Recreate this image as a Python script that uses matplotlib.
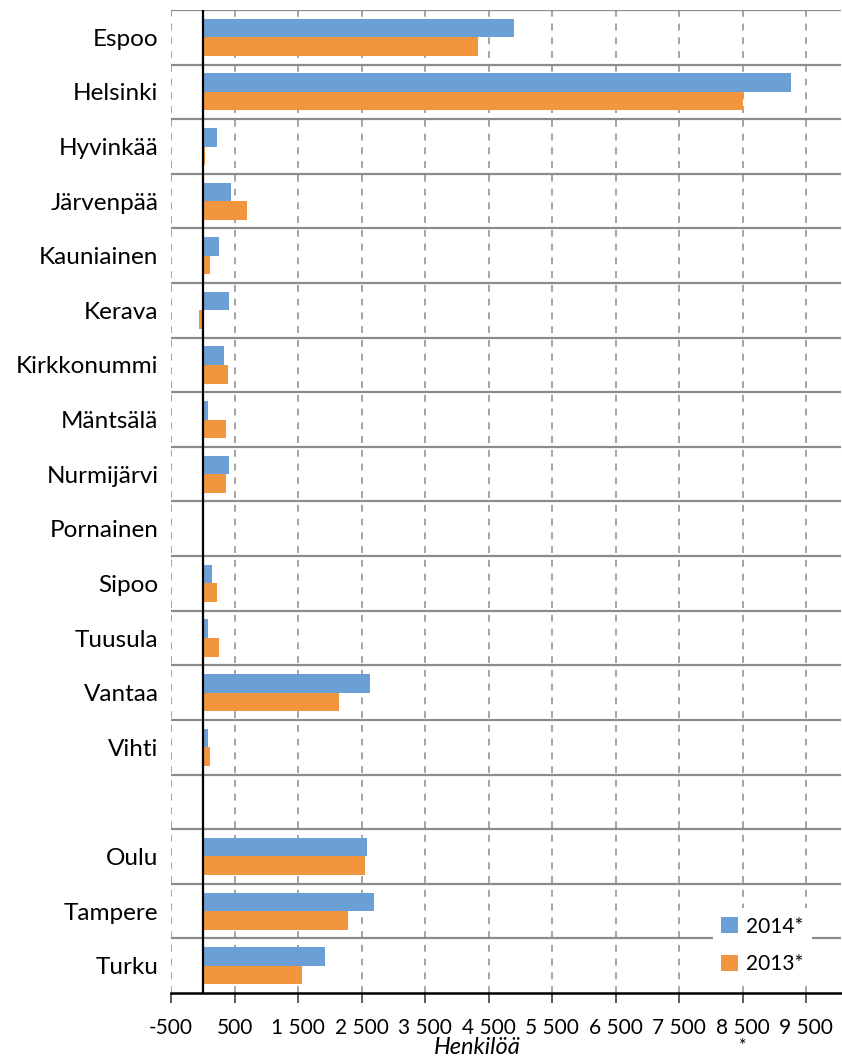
import matplotlib.pyplot as plt
import numpy as np
from matplotlib.ticker import FixedLocator, FuncFormatter

plt.rcParams["font.family"] = ["Lato", "DejaVu Sans"]

municipalities = ["Espoo", "Helsinki", "Hyvinkää", "Järvenpää", "Kauniainen",
                  "Kerava", "Kirkkonummi", "Mäntsälä", "Nurmijärvi", "Pornainen",
                  "Sipoo", "Tuusula", "Vantaa", "Vihti", "",
                  "Oulu", "Tampere", "Turku"]
values_2014 = [4900, 9260, 220, 440, 250, 410, 330, 90, 410, 0,
               140, 90, 2630, 90, 0, 2580, 2690, 1920]
values_2013 = [4330, 8500, 40, 690, 110, -60, 390, 360, 360, 0,
               220, 250, 2140, 110, 0, 2550, 2280, 1560]
x_ticks = [-500, 500, 1500, 2500, 3500, 4500, 5500, 6500, 7500, 8500, 9500]

BLUE = "#6c9fd5"
ORANGE = "#f2953f"
GRID = "#8c8c8c"

W, H, DPI = 842, 1059, 100
fig = plt.figure(figsize=(W / DPI, H / DPI), dpi=DPI)
ax = fig.add_axes([171 / W, 1 - 993 / H, (841 - 171) / W, (993 - 10) / H])

y = np.arange(len(municipalities))
off = 0.17
bh = 0.34
ax.barh(y - off, values_2014, height=bh, color=BLUE, label="2014*", zorder=3)
ax.barh(y + off, values_2013, height=bh, color=ORANGE, label="2013*", zorder=3)

ax.set_xlim(-500, 10050)
ax.set_ylim(len(municipalities) - 0.5, -0.5)

# vertical dashed gridlines
for xt in x_ticks:
    ax.axvline(xt, color=GRID, lw=1.1, ls=(0, (4.5, 4.5)), zorder=1)
# horizontal separators between categories
for b in np.arange(-0.5, len(municipalities) - 0.5, 1.0):
    ax.axhline(b, color=GRID, lw=1.6, zorder=1)
ax.axvline(0, color="black", lw=1.6, zorder=4)

for s in ("top", "right", "left"):
    ax.spines[s].set_visible(False)
ax.spines["bottom"].set_color("black")
ax.spines["bottom"].set_linewidth(1.8)
ax.spines["bottom"].set_zorder(7)

ax.xaxis.set_major_locator(FixedLocator(x_ticks))
ax.xaxis.set_major_formatter(FuncFormatter(lambda v, p: f"{int(v):,}".replace(",", " ")))
ax.tick_params(axis="x", length=7, width=1.2, color="#404040", labelsize=15, pad=11)
ax.set_yticks(y)
ax.set_yticklabels(municipalities)
ax.tick_params(axis="y", length=0, labelsize=17.5, pad=9)

fig.text(477 / W, 1 - 1047 / H, "Henkilöä", style="italic", fontsize=17,
         ha="center", va="center")
fig.text(743 / W, 1 - 1038 / H, "*", fontsize=13, ha="center", va="top")

leg = ax.legend(loc="lower right", bbox_to_anchor=(822 / W, 1 - 993 / H),
                bbox_transform=fig.transFigure, fontsize=15, frameon=True,
                fancybox=False, edgecolor="none", framealpha=1,
                handlelength=0.8, handleheight=0.8, handletextpad=0.4,
                labelspacing=0.85, borderpad=0.4)
leg.set_zorder(6)

fig.savefig("out.png", dpi=DPI)
